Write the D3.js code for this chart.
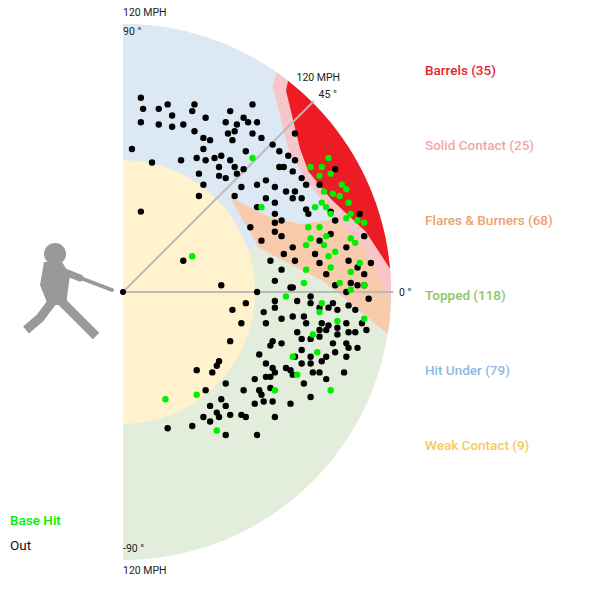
<!DOCTYPE html>
<html>
<head>
<meta charset="utf-8">
<script src="https://cdn.jsdelivr.net/npm/d3@7"></script>
<style>
  body { margin: 0; background: #fff; }
  text { font-family: Roboto, "Noto Sans", sans-serif; }
</style>
</head>
<body>
<svg id="chart" width="600" height="600"></svg>
<script>
// batted balls as [horizontal, vertical] velocity components (mph)
const baseHits = [
  [58,60],[92,60],[84,56],[89,56],[93,53],[88,52],[98,48],[100,46],[90,45],[94,44],
  [97,43],[101,40],[89,40],[86,38],[91,38],[93,35],[102,35],[100,33],[105,32],[108,31],
  [83,29],[88,29],[91,25],[84,24],[102,24],[104,22],[82,21],[90,21],[95,18],[92,16],
  [106,13],[93,11],[102,9],[82,10],[97,4],[102,1],[62,38],[31,16],[81,4],[108,3],
  [73,-2],[89,-5],[88,-9],[108,-12],[96,-13],[85,-19],[87,-27],[76,-29],[78,-37],[68,-44],
  [93,-44],[33,-46],[19,-48],[42,-62]
];
const outs = [
  [8,87],[9,82],[8,76],[16,82],[20,84],[22,79],[16,75],[22,74],[27,75],[32,84],
  [31,81],[37,78],[32,72],[36,69],[39,68],[48,81],[46,76],[51,75],[54,78],[56,76],
  [58,84],[60,76],[50,72],[47,71],[58,71],[49,68],[36,64],[41,60],[44,61],[48,59],
  [33,60],[37,59],[43,56],[50,56],[55,63],[62,69],[67,66],[70,63],[77,71],[74,61],
  [77,59],[26,59],[13,58],[4,64],[34,53],[43,52],[46,51],[51,53],[54,55],[53,47],
  [60,48],[64,50],[70,56],[72,56],[76,54],[80,51],[68,47],[73,45],[76,42],[82,48],
  [36,48],[34,43],[50,43],[60,38],[64,42],[68,40],[68,35],[71,32],[68,31],[80,42],
  [82,37],[83,35],[57,29],[62,23],[68,27],[71,25],[76,20],[72,17],[66,14],[77,14],
  [86,17],[88,13],[71,10],[68,5],[76,2],[60,0],[8,36],[27,14],[44,3],[88,48],
  [95,55],[106,35],[108,25],[101,14],[105,11],[108,8],[93,36],[95,32],[88,23],[93,26],
  [100,20],[91,8],[102,4],[108,3],[100,0],[111,13],[77,45],
  [75,2],[84,-2],[95,3],[105,3],[110,-3],[68,-4],[78,-4],[84,-5],[94,-5],[101,-6],
  [55,-5],[49,-8],[63,-9],[68,-7],[76,-11],[81,-11],[92,-7],[96,-8],[104,-8],[88,-7],
  [53,-14],[64,-14],[71,-12],[82,-14],[89,-14],[92,-15],[100,-14],[107,-14],[109,-17],[104,-18],
  [96,-16],[78,-18],[88,-17],[91,-17],[96,-19],[101,-18],[48,-22],[67,-22],[71,-23],[80,-21],
  [84,-21],[88,-20],[94,-23],[100,-23],[101,-25],[105,-25],[66,-24],[80,-26],[61,-28],[77,-29],
  [84,-29],[91,-29],[95,-27],[100,-29],[43,-31],[42,-33],[64,-32],[67,-34],[73,-34],[80,-32],
  [84,-32],[89,-31],[33,-35],[40,-36],[68,-36],[75,-35],[76,-37],[85,-36],[88,-36],[99,-36],
  [59,-39],[64,-38],[66,-38],[91,-39],[46,-41],[81,-41],[37,-44],[54,-44],[61,-44],[66,-43],
  [62,-46],[44,-48],[63,-49],[67,-49],[59,-50],[75,-50],[84,-47],[39,-51],[46,-51],[42,-54],
  [43,-56],[48,-55],[53,-55],[55,-56],[36,-56],[39,-58],[68,-56],[31,-60],[20,-61],[46,-64],
  [60,-64]
];

// zone boundaries as [exit velocity mph, launch angle deg]
const toppedEdge = [[0,19],[62,19],[64,18],[75,10],[90,3],[120,-9]];
const hitUnderEdge = [[64,42],[68,34],[74,27],[85,21],[100,19],[120,15]];
const solidEdge = [[120,55],[114,54],[98,41],[96,33],[99,22],[110,10],[120,-2]];
const barrelEdge = [[120,52],[116,51],[102,39],[99,33],[102,24],[112,14],[120,5]];
const weakSpeed = 59;
const maxSpeed = 120;

const legend = [
  { label: "Barrels (35)", color: "#e8232b" },
  { label: "Solid Contact (25)", color: "#f4a4aa" },
  { label: "Flares & Burners (68)", color: "#f0a06c" },
  { label: "Topped (118)", color: "#8cc46a" },
  { label: "Hit Under (79)", color: "#8fb8df" },
  { label: "Weak Contact (9)", color: "#f7c95e" }
];

const cx = 123, cy = 292;
const svg = d3.select("#chart");
const r = d3.scaleLinear().domain([0, maxSpeed]).range([0, 268]);
const rad = d => d * Math.PI / 180;
const px = (v, a) => [cx + r(v) * Math.cos(rad(a)), cy - r(v) * Math.sin(rad(a))];

function arc(v, a0, a1) {
  const n = Math.max(2, Math.ceil(Math.abs(a1 - a0)));
  return d3.range(n + 1).map(i => [v, a0 + (a1 - a0) * i / n]);
}
const line = d3.line().x(p => px(p[0], p[1])[0]).y(p => px(p[0], p[1])[1]);
function zone(pts, fill) {
  svg.append("path").attr("d", line(pts) + "Z").attr("fill", fill);
}

// green full half disk, then other zones on top
zone([[0, 0]].concat(arc(maxSpeed, -90, 90)), "#e2eedb");
zone(toppedEdge.concat(arc(maxSpeed, -9, 90), [[0, 90]]), "#dce9f5");
zone(toppedEdge.slice(2).concat(arc(maxSpeed, -9, 15), hitUnderEdge.slice().reverse()), "#f7cbab");
zone(solidEdge.concat(arc(maxSpeed, -2, 55)), "#f8c6c9");
zone(barrelEdge.concat(arc(maxSpeed, 5, 52)), "#ed1c24");
zone([[0, 0]].concat(arc(weakSpeed, -90, 90)), "#fff2cc");

// reference lines
[0, 45].forEach(a => {
  const [x, y] = px(maxSpeed + 1, a);
  svg.append("line").attr("x1", cx).attr("y1", cy).attr("x2", x).attr("y2", y)
    .attr("stroke", "#bbb").attr("stroke-width", 2);
});

const small = (t, x, y, anchor) => svg.append("text").text(t).attr("x", x).attr("y", y)
  .attr("font-size", 10.5).attr("fill", "#222").attr("text-anchor", anchor || "start");
let p = px(maxSpeed, 90);
small("120 MPH", p[0], p[1] - 8);
small("90 °", p[0], p[1] + 11);
p = px(maxSpeed, -90);
small("-90 °", p[0], p[1] - 8);
small("120 MPH", p[0], p[1] + 14);
p = px(maxSpeed, 45);
small("45 °", p[0] + 6, p[1] - 4);
small("120 MPH", p[0] - 16, p[1] - 21);
p = px(maxSpeed, 0);
small("0 °", p[0] + 8, p[1] + 4);

// batter silhouette
const batter = svg.append("g").attr("fill", "#999").attr("stroke", "#999");
batter.append("circle").attr("cx", 55).attr("cy", 254).attr("r", 11).attr("stroke", "none");
batter.append("path").attr("stroke", "none")
  .attr("d", "M44,262 L62,262 L70,275 L66,305 L48,305 L40,285 Z");
batter.append("path").attr("fill", "none").attr("stroke-width", 7).attr("stroke-linecap", "round")
  .attr("d", "M60,270 L80,278");
batter.append("path").attr("fill", "none").attr("stroke-width", 4).attr("stroke-linecap", "round")
  .attr("d", "M78,277 L112,290");
batter.append("path").attr("fill", "none").attr("stroke-width", 9).attr("stroke-linejoin", "round")
  .attr("d", "M52,302 L40,318 L26,330");
batter.append("path").attr("fill", "none").attr("stroke-width", 9).attr("stroke-linejoin", "round")
  .attr("d", "M62,302 L78,318 L96,336");

// points
const polar = d => px(Math.hypot(d[0], d[1]), Math.atan2(d[1], d[0]) * 180 / Math.PI);
const dot = (data, color) => svg.append("g").selectAll("circle").data(data).join("circle")
  .attr("cx", d => polar(d)[0])
  .attr("cy", d => polar(d)[1])
  .attr("r", 3.2).attr("fill", color);
dot(outs, "#000");
dot(baseHits, "#00ee00");
svg.append("circle").attr("cx", cx).attr("cy", cy).attr("r", 3).attr("fill", "#000");

// zone legend
svg.append("g").selectAll("text").data(legend).join("text")
  .text(d => d.label).attr("x", 425).attr("y", (d, i) => 75 + i * 75)
  .attr("font-size", 13.5).attr("font-weight", 500).attr("fill", d => d.color);

svg.append("text").text("Base Hit").attr("x", 10).attr("y", 525)
  .attr("font-size", 13.5).attr("font-weight", 500).attr("fill", "#00ee00");
svg.append("text").text("Out").attr("x", 10).attr("y", 550)
  .attr("font-size", 13.5).attr("fill", "#111");
</script>
</body>
</html>
